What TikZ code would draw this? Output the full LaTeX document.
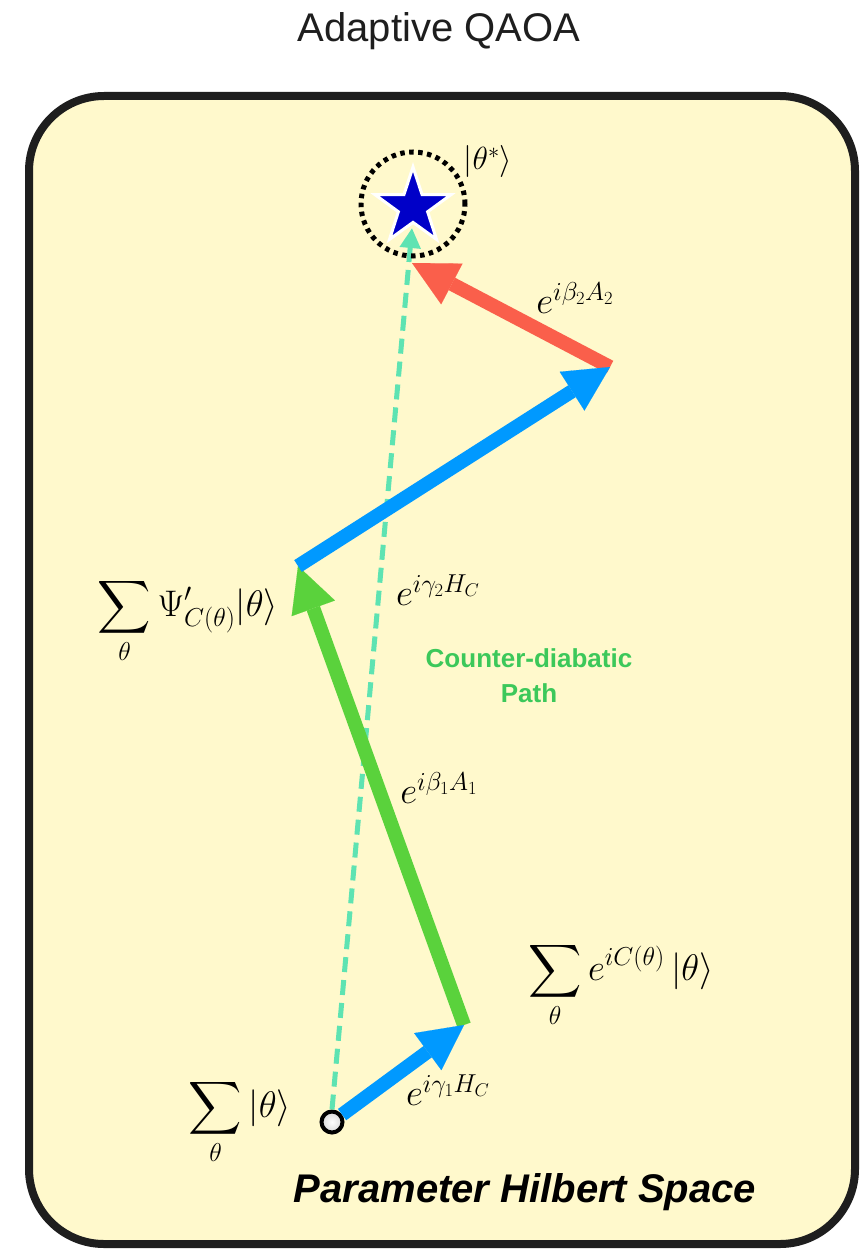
\documentclass[tikz,border=0pt]{standalone}
\usepackage{fix-cm}
\usepackage{fontspec}
\DeclareFontFamily{OMX}{cmex}{}
\DeclareFontShape{OMX}{cmex}{m}{n}{<->cmex10}{}
\newfontfamily\labelsans{Liberation Sans}
\usepackage{tikz}
\usetikzlibrary{positioning,arrows.meta,shapes.geometric}
\definecolor{spacefill}{HTML}{FFF9CC}
\definecolor{framedark}{HTML}{1E1E1E}
\definecolor{hcblue}{HTML}{0099FF}
\definecolor{cdgreen}{HTML}{5AD23C}
\definecolor{cdtext}{HTML}{3CC85A}
\definecolor{adred}{HTML}{FA5F4B}
\definecolor{pathteal}{HTML}{5EE3B2}
\definecolor{starblue}{HTML}{0000C8}

\begin{document}
\begin{tikzpicture}[x=1pt, y=-1pt, pulse/.style={line width=14pt, -{Triangle[length=45pt, width=46pt, line width=0.1pt]}}, mathlab/.style={font=\fontsize{37}{44}\selectfont, inner sep=0pt}, sanslab/.style={font=\labelsans\fontsize{40}{48}\selectfont, anchor=base, inner sep=0pt}]
\useasboundingbox (0,0) rectangle (861,1249);
\fill[white] (0,0) rectangle (861,1249);
\node[sanslab, text=framedark] (title) at (439,42) {Adaptive QAOA};
\draw[framedark, line width=8pt, fill=spacefill, rounded corners=75pt] (29,96) rectangle (855,1244);
% states along the path
\node[circle, draw=black, line width=4pt, inner color=white, outer color=gray!30, minimum size=21pt, inner sep=0pt] (s0) at (332,1122) {};
\coordinate (p1) at (464,1025);
\coordinate (p2) at (298,566);
\coordinate (p3) at (610,367);
\coordinate (p4) at (412,263);
\coordinate (p5) at (412,228);
\draw[pathteal, line width=5pt, dash pattern=on 15pt off 8pt, -{Triangle[length=20pt, width=20pt]}] (s0.north) -- (p5);
\draw[pulse, adred] (p3) -- (p4);
\draw[pulse, cdgreen] (p1) -- (p2);
\draw[pulse, hcblue] (s0) -- (p1);
\draw[pulse, hcblue] (p2) -- (p3);
% target state
\node[circle, draw=black, line width=5pt, dash pattern=on 4.5pt off 4.5pt, minimum size=104pt, inner sep=0pt] (goal) at (413,204) {};
\node[star, star points=5, star point ratio=2.6, fill=starblue, draw=white, line width=3pt, minimum size=80pt, inner sep=0pt] (star) at (413,207) {};
\node[inner sep=0pt, font=\fontsize{32}{36}\selectfont] (tgt) at (488,162) {$|\theta^*\rangle$};
% labels
\node[mathlab] (l0) at (240,1122) {$\displaystyle\sum_\theta |\theta\rangle$};
\node[mathlab] (l1) at (621,985) {$\displaystyle\sum_\theta e^{iC(\theta)}\,|\theta\rangle$};
\node[mathlab] (l2) at (188,621) {$\displaystyle\sum_\theta \Psi'_{C(\theta)}|\theta\rangle$};
\node[mathlab] (g1) at (448,1090) {$e^{i\gamma_1 H_C}$};
\node[mathlab] (b1) at (439,788) {$e^{i\beta_1 A_1}$};
\node[mathlab] (g2) at (438,590) {$e^{i\gamma_2 H_C}$};
\node[mathlab] (b2) at (575,298) {$e^{i\beta_2 A_2}$};
\node[font=\labelsans\bfseries\fontsize{26}{35}\selectfont, text=cdtext, align=center, inner sep=0pt] (cdpath) at (529,676) {Counter-diabatic\\Path};
\node[sanslab, font=\labelsans\bfseries\itshape\fontsize{40}{48}\selectfont] (space) at (525,1202) {Parameter Hilbert Space};
\end{tikzpicture}
\end{document}
